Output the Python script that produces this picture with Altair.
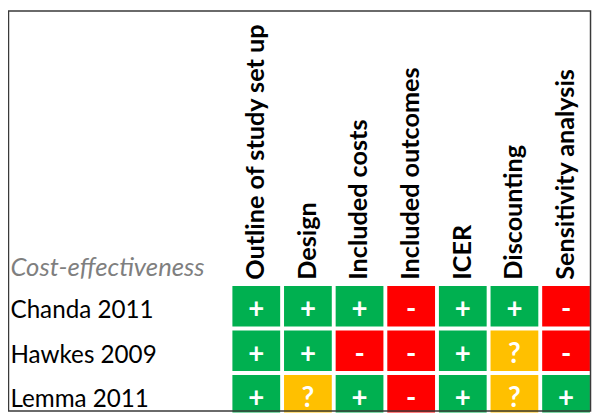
import altair as alt
import pandas as pd

studies = ["Chanda 2011", "Hawkes 2009", "Lemma 2011"]
criteria = ["Outline of study set up", "Design", "Included costs", "Included outcomes",
            "ICER", "Discounting", "Sensitivity analysis"]
chanda = ["+", "+", "+", "-", "+", "+", "-"]
hawkes = ["+", "+", "-", "-", "+", "?", "-"]
lemma = ["+", "?", "+", "-", "+", "?", "+"]
symbols = ["+", "-", "?"]
colors = ["#00B050", "#FF0000", "#FFC000"]

rows = []
for s, vals in zip(studies, [chanda, hawkes, lemma]):
    for c, v in zip(criteria, vals):
        rows.append({"study": s, "criterion": c, "rating": v})
df = pd.DataFrame(rows)

FONT = "Lato"

x = alt.X("criterion:N", sort=criteria,
          scale=alt.Scale(range=[0, 366], paddingInner=0.075, paddingOuter=0.04),
          axis=alt.Axis(orient="top", title=None, labelAngle=-90, labelFont=FONT,
                        labelFontWeight="bold", labelFontSize=25.5, labelColor="black",
                        labelPadding=7, ticks=False, domain=False, labelLimit=400))
y = alt.Y("study:N", sort=studies,
          scale=alt.Scale(range=[0, 131], paddingInner=0.09, paddingOuter=0),
          axis=alt.Axis(title="Cost-effectiveness", titleAngle=0, titleAlign="left",
                        titleBaseline="alphabetic", titleX=-223, titleY=-11,
                        titleFont=FONT, titleFontSize=26, titleFontStyle="italic",
                        titleFontWeight="normal", titleColor="#7f7f7f",
                        labelAlign="left", labelPadding=223, labelFont=FONT,
                        labelFontSize=24.5, labelColor="black", ticks=False,
                        labelBaseline="alphabetic", labelOffset=12,
                        domain=False, labelLimit=400))

base = alt.Chart(df).encode(x=x, y=y)
rects = base.mark_rect(clip=True).encode(
    color=alt.Color("rating:N", scale=alt.Scale(domain=symbols, range=colors), legend=None)
)
texts = base.mark_text(font=FONT, fontWeight="bold", fontSize=28, color="white",
                       dy=4).encode(text="rating:N")
border = alt.Chart(pd.DataFrame({"a": [0]})).mark_rect(
    filled=False, stroke="#3a3a3a", strokeWidth=1.5
).encode(x=alt.value(-224.5), x2=alt.value(364.5), y=alt.value(-278.5), y2=alt.value(126.5))

chart = alt.layer(rects, texts, border).properties(
    width=366, height=128,
    padding={"left": 225, "top": 279, "right": 0, "bottom": 0},
    autosize=alt.AutoSizeParams(type="none"),
).configure_view(stroke=None)

chart.save("out.html", embed_options={"renderer": "svg", "actions": False})
